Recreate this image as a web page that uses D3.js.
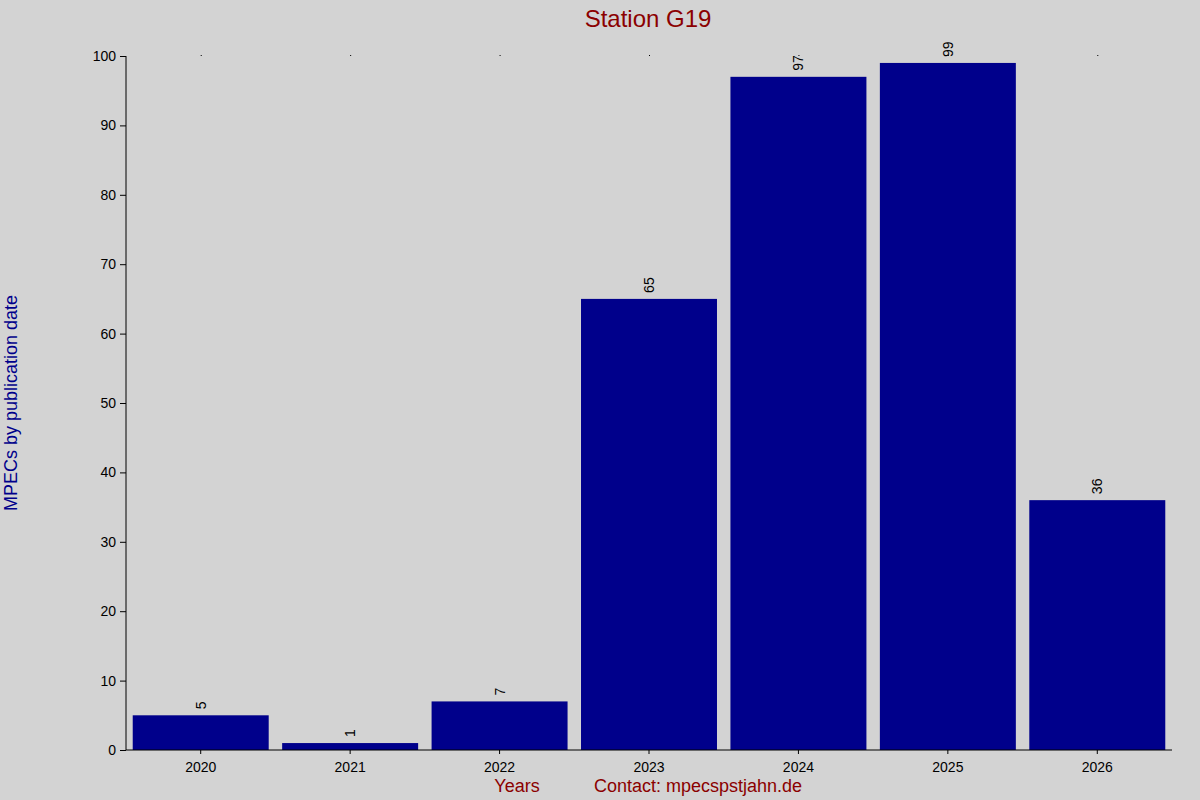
<!DOCTYPE html><html><head><script src="https://cdn.jsdelivr.net/npm/d3@7"></script>
<style>body{margin:0;background:#d3d3d3}</style></head><body><svg width="1200" height="800"></svg>
<script>
const years=["2020","2021","2022","2023","2024","2025","2026"];
const counts=[5,1,7,65,97,99,36];
const yTicks=[0,10,20,30,40,50,60,70,80,90,100];
const svg=d3.select("svg");
svg.append("rect").attr("width",1200).attr("height",800).attr("fill","#d3d3d3");
const L=126,R=1172,T=56,B=750;
const x=d3.scaleBand().domain(years).range([L,R]).paddingInner(0.09).paddingOuter(0.045);
const y=d3.scaleLinear().domain([0,100]).range([B,T]);
const f="Arial, Liberation Sans, sans-serif";
svg.selectAll(".bar").data(years).join("rect").attr("x",d=>x(d)).attr("width",x.bandwidth())
 .attr("y",(d,i)=>y(counts[i])).attr("height",(d,i)=>B-y(counts[i])).attr("fill","#00008b");
svg.selectAll(".lbl").data(years).join("text").attr("transform",(d,i)=>`translate(${x(d)+x.bandwidth()/2+5},${y(counts[i])-6}) rotate(-90)`)
 .attr("font-family",f).attr("font-size",14).text((d,i)=>counts[i]);
const ya=svg.append("g").attr("transform",`translate(${L},0)`).call(d3.axisLeft(y).tickValues(yTicks).tickSize(6).tickPadding(4));
const xa=svg.append("g").attr("transform",`translate(0,${B})`).call(d3.axisBottom(x).tickSize(4).tickPadding(8));
[ya,xa].forEach(g=>{g.selectAll("text").attr("font-family",f).attr("font-size",14).attr("fill","#000");g.select(".domain").attr("stroke","#000");});
ya.select(".domain").attr("d",`M0,${B}V${T}`);
xa.select(".domain").attr("d",`M${L},0H${R}`);
svg.selectAll(".dot").data(years).join("rect").attr("x",d=>x(d)+x.bandwidth()/2).attr("y",T-1).attr("width",1).attr("height",1).attr("fill","#000");
svg.append("text").attr("x",648).attr("y",27).attr("text-anchor","middle").attr("font-family",f).attr("font-size",24).attr("fill","#8b0000").text("Station G19");
svg.append("text").attr("transform","translate(17,403) rotate(-90)").attr("text-anchor","middle").attr("font-family",f).attr("font-size",18).attr("fill","#00008b").text("MPECs by publication date");
svg.append("text").attr("x",517).attr("y",792).attr("text-anchor","middle").attr("font-family",f).attr("font-size",18).attr("fill","#8b0000").text("Years");
svg.append("text").attr("x",698).attr("y",792).attr("text-anchor","middle").attr("font-family",f).attr("font-size",18).attr("fill","#8b0000").text("Contact: mpecspstjahn.de");
</script></body></html>
